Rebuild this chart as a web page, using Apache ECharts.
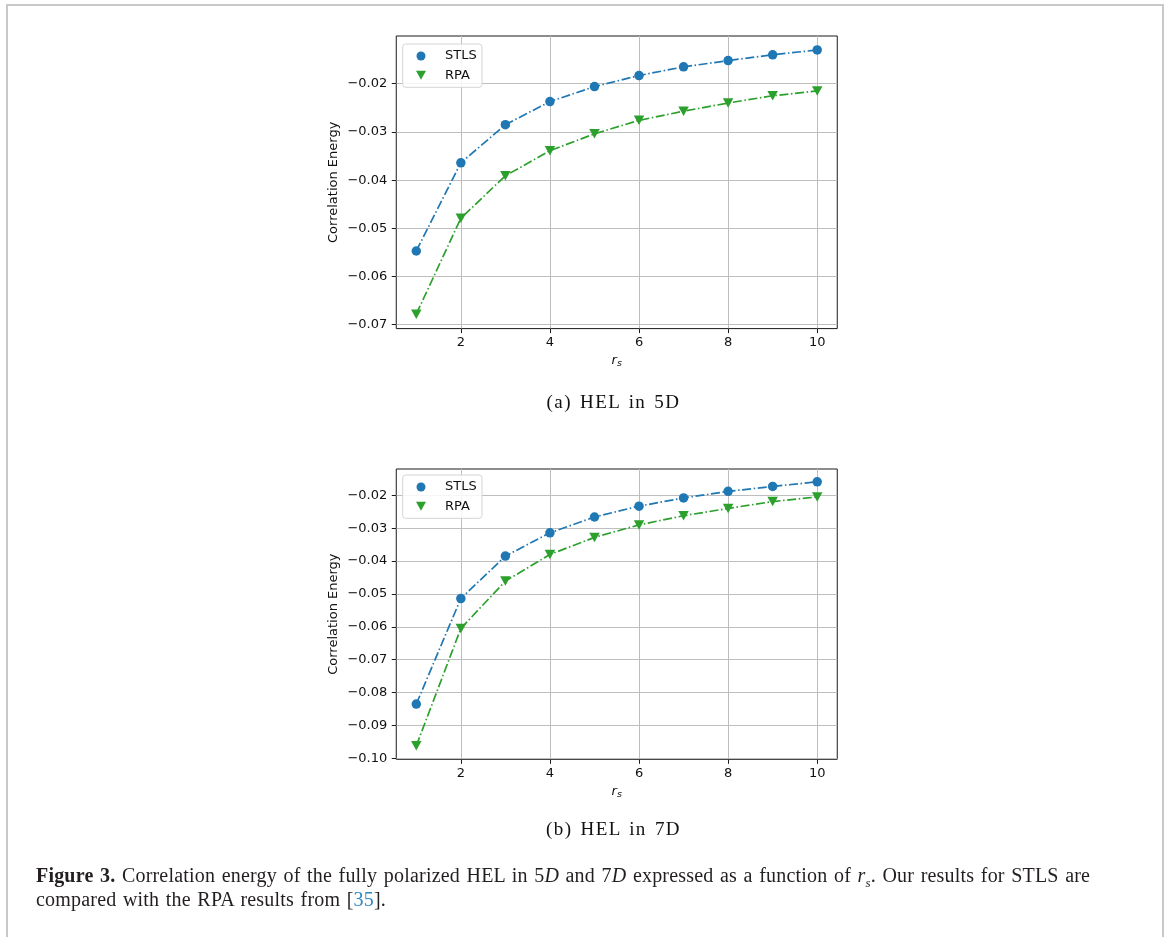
<!DOCTYPE html>
<html>
<head>
<meta charset="utf-8">
<script src="https://cdn.jsdelivr.net/npm/echarts@6/dist/echarts.min.js"></script>
<style>
  html, body { margin: 0; padding: 0; background: #fff; }
  #page { position: relative; width: 1168px; height: 937px; overflow: hidden; background: #fff; }
  #frame { position: absolute; left: 6px; top: 4px; width: 1158px; height: 960px; box-sizing: border-box;
           border: 2px solid #c9c9c9; border-bottom: none; }
  #chart { position: absolute; left: 0; top: 0; width: 1168px; height: 937px; }
  .sub { position: absolute; transform: translateX(-50%); white-space: nowrap;
         font-family: "Liberation Serif", serif; font-size: 19px; line-height: 24px; color: #111;
         letter-spacing: 1.4px; word-spacing: 2px; }
  #cap { position: absolute; left: 36px; top: 864px; font-family: "Liberation Serif", serif;
         font-size: 20px; line-height: 23.5px; color: #231f20; white-space: nowrap;
         letter-spacing: 0.2px; word-spacing: 1.3px; }
  #cap .ref { color: #2f86c4; }
  #cap sub { font-size: 13px; line-height: 0; }
</style>
</head>
<body>
<div id="page">
  <div id="frame"></div>
  <div id="chart"></div>
  <div class="sub" id="capA" style="left:613.5px; top:390px;">(a) HEL in 5D</div>
  <div class="sub" id="capB" style="left:613.5px; top:817px;">(b) HEL in 7D</div>
  <div id="cap">
    <div><b>Figure 3.</b> Correlation energy of the fully polarized HEL in 5<i>D</i> and 7<i>D</i> expressed as a function of <i>r<sub>s</sub></i>. Our results for STLS are</div>
    <div>compared with the RPA results from [<span class="ref">35</span>].</div>
  </div>
</div>
<script>
// ---- data ----
const rs = [1, 2, 3, 4, 5, 6, 7, 8, 9, 10];
const stls5D = [-0.0547, -0.0364, -0.0285, -0.0237, -0.0206, -0.0183, -0.0165, -0.0152, -0.0140, -0.0130];
const rpa5D  = [-0.0678, -0.0479, -0.0391, -0.0339, -0.0304, -0.0276, -0.0257, -0.0240, -0.0225, -0.0215];
const stls7D = [-0.0835, -0.0514, -0.0385, -0.0314, -0.0266, -0.0233, -0.0208, -0.0188, -0.0173, -0.0159];
const rpa7D  = [-0.0962, -0.0605, -0.0461, -0.0380, -0.0328, -0.0290, -0.0262, -0.0240, -0.0219, -0.0205];
const xTicks = [2, 4, 6, 8, 10];
const yTicks5D = [-0.07, -0.06, -0.05, -0.04, -0.03, -0.02];
const yTicks7D = [-0.10, -0.09, -0.08, -0.07, -0.06, -0.05, -0.04, -0.03, -0.02];
const seriesNames = ['STLS', 'RPA'];
const yTitle = 'Correlation Energy';

// ---- styling ----
const BLUE = '#1f77b4', GREEN = '#2ca02c';
const FONT = 'DejaVu Sans';
const DASHDOT = [9, 2.6, 1.5, 2.6];
const TRI_DOWN = 'path://M0,0L10,0L5,9Z';

function pairs(xs, ys) { return xs.map((x, i) => [x, ys[i]]); }
function fmtY(v) { return (v < 0 ? '\u2212' : '') + Math.abs(v).toFixed(2); }

const grids = [
  { left: 396.25, top: 36, width: 441, height: 292.6, ymin: -0.0708, ymax: -0.0101, split: 6, yt: yTicks5D, s: stls5D, r: rpa5D, legTop: 44 },
  { left: 396.25, top: 469, width: 441, height: 290.3, ymin: -0.1003, ymax: -0.0120, split: 9, yt: yTicks7D, s: stls7D, r: rpa7D, legTop: 475 }
];

const option = {
  animation: false,
  textStyle: { fontFamily: FONT },
  grid: grids.map(g => ({ left: g.left, top: g.top, width: g.width, height: g.height,
    show: true, borderColor: '#1a1a1a', borderWidth: 1, backgroundColor: 'transparent', containLabel: false })),
  xAxis: grids.map((g, i) => ({
    type: 'value', gridIndex: i, min: 0.55, max: 10.45, splitNumber: 5,
    axisLine: { show: false },
    axisTick: { show: true, length: 4.5, lineStyle: { color: '#1a1a1a', width: 1 }, customValues: xTicks },
    axisLabel: { show: true, margin: 7.5, fontSize: 13, color: '#111', fontFamily: FONT,
                 customValues: xTicks, formatter: v => String(v) },
    splitLine: { show: true, lineStyle: { color: '#bebebe', width: 1 } },
    name: '{r|r}{s|s}', nameLocation: 'middle', nameGap: 24,
    nameTextStyle: { rich: {
      r: { fontFamily: FONT, fontStyle: 'italic', fontSize: 13, color: '#111', lineHeight: 16 },
      s: { fontFamily: FONT, fontStyle: 'italic', fontSize: 9.5, color: '#111', lineHeight: 16, verticalAlign: 'bottom', padding: [6, 0, 0, 0] }
    } }
  })),
  yAxis: grids.map((g, i) => ({
    type: 'value', gridIndex: i, min: g.ymin, max: g.ymax, splitNumber: g.split,
    axisLine: { show: false },
    axisTick: { show: true, length: 4.5, lineStyle: { color: '#1a1a1a', width: 1 }, customValues: g.yt },
    axisLabel: { show: true, margin: 9, fontSize: 13, color: '#111', fontFamily: FONT,
                 customValues: g.yt, formatter: fmtY },
    splitLine: { show: true, lineStyle: { color: '#bebebe', width: 1 } },
    name: yTitle, nameLocation: 'middle', nameGap: 56, nameRotate: 90,
    nameTextStyle: { fontSize: 13, color: '#111', fontFamily: FONT }
  })),
  legend: grids.map(g => ({
    orient: 'vertical', left: 402.7, top: g.legTop,
    padding: [5.5, 5.3, 5.5, 13.3], itemGap: 6.3, itemWidth: 10, itemHeight: 9,
    backgroundColor: 'rgba(255,255,255,0.85)', borderColor: '#d4d4d4', borderWidth: 1, borderRadius: 3,
    selectedMode: false, symbolRotate: 0,
    textStyle: { fontSize: 13, color: '#111', fontFamily: FONT, lineHeight: 13, padding: [0, 0, 0, 14] },
    data: [
      { name: seriesNames[0], icon: 'circle', itemStyle: { color: BLUE } },
      { name: seriesNames[1], icon: TRI_DOWN, itemStyle: { color: GREEN } }
    ]
  })),
  series: grids.flatMap((g, i) => [
    { name: seriesNames[0], type: 'line', xAxisIndex: i, yAxisIndex: i, data: pairs(rs, g.s),
      symbol: 'circle', symbolSize: 9.5, showAllSymbol: true, z: 3,
      itemStyle: { color: BLUE, borderWidth: 0 }, lineStyle: { color: BLUE, width: 1.7, type: DASHDOT } },
    { name: seriesNames[1], type: 'line', xAxisIndex: i, yAxisIndex: i, data: pairs(rs, g.r),
      symbol: 'triangle', symbolRotate: 180, symbolSize: [10.5, 9.5], showAllSymbol: true, z: 3,
      itemStyle: { color: GREEN, borderWidth: 0 }, lineStyle: { color: GREEN, width: 1.7, type: DASHDOT } }
  ])
};

const chart = echarts.init(document.getElementById('chart'), null, { renderer: 'canvas' });
chart.setOption(option);
</script>
</body>
</html>
